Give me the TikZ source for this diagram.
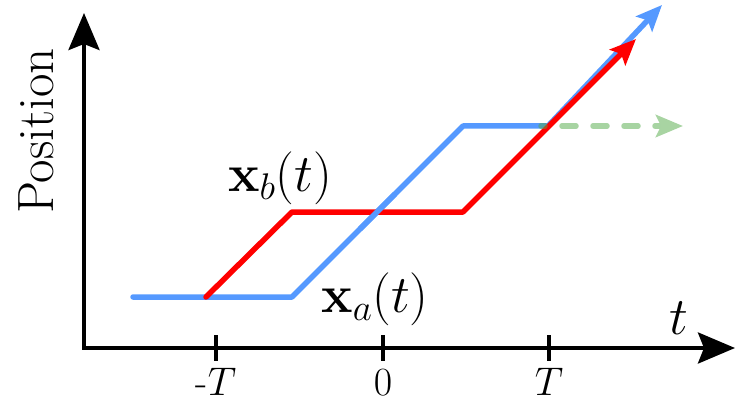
\RequirePackage{fix-cm}
\documentclass[tikz,border=0pt]{standalone}
\usetikzlibrary{arrows.meta}
\definecolor{myblue}{RGB}{85,153,255}
\definecolor{mygreen}{RGB}{80,170,70}
\definecolor{mygreenlight}{RGB}{168,212,162}
\begin{document}
\begin{tikzpicture}[x=1pt,y=-1pt,
  axis/.style={line width=4pt, line join=miter, {Stealth[length=37pt,width=31pt,inset=6pt]}-{Stealth[length=37pt,width=31pt,inset=6pt]}},
  tickmark/.style={line width=4pt},
  traj/.style={line width=5.5pt, line cap=round, line join=round},
  trajtip/.style={-{Stealth[length=26pt,width=22pt,inset=5pt]}},
  lab/.style={font=\fontsize{53}{58}\selectfont, inner sep=0pt},
  ticklab/.style={font=\fontsize{40}{46}\selectfont, inner sep=0pt, anchor=base}]
\useasboundingbox (0,0) rectangle (748,420);
% axes
\coordinate (O) at (84,348);
\coordinate (xend) at (735,348);
\coordinate (yend) at (84,13);
\draw[axis] (yend) -- (O) -- (xend);
% ticks
\draw[tickmark] (216,335) -- (216,361);
\draw[tickmark] (383,335) -- (383,361);
\draw[tickmark] (549,335) -- (549,361);
\node[ticklab] (lm) at (216,395) {-$T$};
\node[ticklab] (l0) at (383,395) {$0$};
\node[ticklab] (lp) at (549,395) {$T$};
% axis labels
\node[lab, anchor=base] (tl) at (679,334) {$t$};
\node[lab, font=\fontsize{51}{56}\selectfont, rotate=90] (pos) at (36,131) {Position};
% trajectories
\draw[traj, myblue, trajtip] (133,297) -- (292,297) -- (463,126) -- (548,126) -- (662,5);
\draw[traj, red, trajtip] (206,297) -- (292,212) -- (463,212) -- (636,39);
\draw[traj, myblue, line cap=butt] (360,229) -- (395,194);
% green dashed
\draw[line width=5.5pt, mygreen, opacity=0.5, line cap=round, dash pattern=on 14pt off 17pt, dash phase=10pt] (541,126) -- (662,126);
\draw[line width=5.5pt, mygreenlight, -{Stealth[length=27pt,width=22pt,inset=5pt]}] (668,126) -- (683,126);
% labels
\node[lab] (xb) at (280,178) {$\mathbf{x}_b(t)$};
\node[lab] (xa) at (375,299) {$\mathbf{x}_a(t)$};
\end{tikzpicture}
\end{document}
